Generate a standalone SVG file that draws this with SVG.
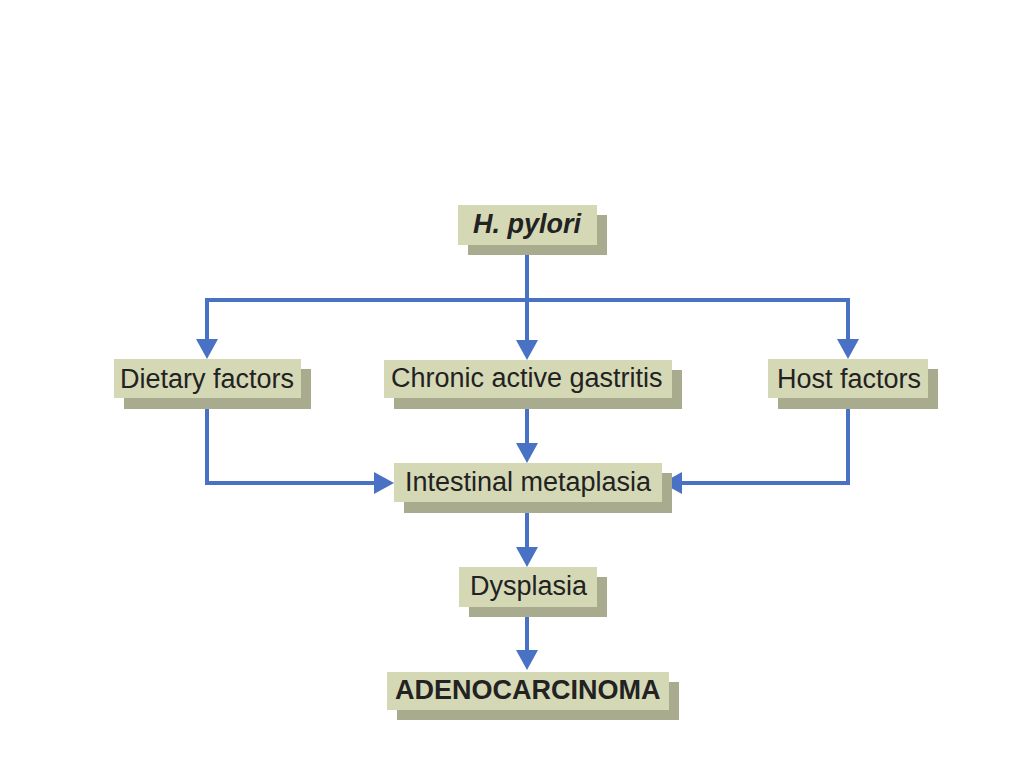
<svg xmlns="http://www.w3.org/2000/svg" width="1024" height="768" viewBox="0 0 1024 768">
<style>
.sh{fill:#a9ab8e}
.bx{fill:#d5d8b5}
.t{font-family:"Liberation Sans",Arial,sans-serif;font-size:27px;fill:#222}
.b{font-weight:bold}
.i{font-style:italic}
.c{fill:none;stroke:#4a72c4;stroke-width:4}
</style>
<defs>
<marker id="ah" viewBox="0 0 20 22" markerWidth="20" markerHeight="22" refX="0" refY="11" orient="auto" markerUnits="userSpaceOnUse">
<path d="M0,0 L20,11 L0,22 z" fill="#4a72c4"/>
</marker>
</defs>
<rect width="1024" height="768" fill="#fff"/>
<g id="connectors">
<path class="c" d="M527,245 V340" marker-end="url(#ah)"/>
<path class="c" d="M207,339 V300 H848 V339" />
<path class="c" d="M207,300 V339" marker-end="url(#ah)"/>
<path class="c" d="M848,300 V339" marker-end="url(#ah)"/>
<path class="c" d="M527,398 V443" marker-end="url(#ah)"/>
<path class="c" d="M207,398 V483 H374" marker-end="url(#ah)"/>
<path class="c" d="M848,398 V483 H682" marker-end="url(#ah)"/>
<path class="c" d="M527,502 V547" marker-end="url(#ah)"/>
<path class="c" d="M527,607 V650" marker-end="url(#ah)"/>
</g>
<g id="hpylori">
<rect class="sh" x="468" y="215" width="139" height="40"/>
<rect class="bx" x="458" y="205" width="139" height="40"/>
<text class="t b i" x="473" y="233">H. pylori</text>
</g>
<g id="dietary">
<rect class="sh" x="124" y="369" width="187" height="40"/>
<rect class="bx" x="114" y="359" width="187" height="39"/>
<text class="t" x="120" y="388">Dietary factors</text>
</g>
<g id="gastritis">
<rect class="sh" x="394" y="370" width="288" height="39"/>
<rect class="bx" x="384" y="360" width="288" height="38"/>
<text class="t" x="391" y="387">Chronic active gastritis</text>
</g>
<g id="host">
<rect class="sh" x="778" y="369" width="160" height="40"/>
<rect class="bx" x="768" y="359" width="160" height="39"/>
<text class="t" x="777" y="388">Host factors</text>
</g>
<g id="metaplasia">
<rect class="sh" x="404" y="473" width="268" height="40"/>
<rect class="bx" x="394" y="463" width="268" height="39"/>
<text class="t" x="405" y="491">Intestinal metaplasia</text>
</g>
<g id="dysplasia">
<rect class="sh" x="469" y="577" width="138" height="40"/>
<rect class="bx" x="459" y="567" width="138" height="40"/>
<text class="t" x="470" y="595">Dysplasia</text>
</g>
<g id="adenocarcinoma">
<rect class="sh" x="397" y="682" width="282" height="38"/>
<rect class="bx" x="387" y="672" width="282" height="38"/>
<text class="t b" x="395" y="699">ADENOCARCINOMA</text>
</g>
</svg>
